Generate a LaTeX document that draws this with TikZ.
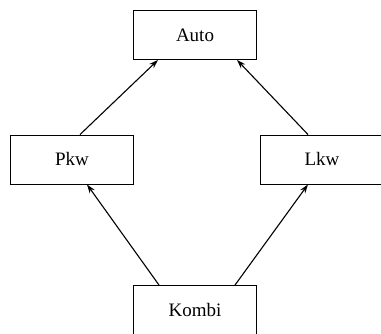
\documentclass[tikz,border=0pt]{standalone}
\usepackage{fontspec}
\setmainfont{Liberation Serif}
\usetikzlibrary{positioning,arrows.meta}

\tikzset{
  klasse/.style={draw, line width=0.9pt, minimum width=123pt, minimum height=49pt,
    inner sep=0pt, font=\fontsize{19}{22}\selectfont},
  erbt/.style={line width=1.1pt, -{Stealth[length=9pt,width=6pt,inset=3pt]}}
}

\begin{document}
\begin{tikzpicture}[x=1pt,y=-1pt]
  \clip (0,0) rectangle (381,334);
  \node[klasse] (auto) at (195,35) {Auto};
  \node[klasse, on grid, below left=124.5pt and 123pt of auto] (pkw) {Pkw};
  \node[klasse, on grid, below right=124.5pt and 127pt of auto] (lkw) {Lkw};
  \node[klasse, on grid, below=275pt of auto] (kombi) {Kombi};

  \draw[erbt] ([xshift=8pt]pkw.north) -- ([xshift=-37pt]auto.south);
  \draw[erbt] ([xshift=-14pt]lkw.north) -- ([xshift=42pt]auto.south);
  \draw[erbt] ([xshift=-36pt]kombi.north) -- ([xshift=15pt]pkw.south);
  \draw[erbt] ([xshift=40pt]kombi.north) -- ([xshift=-14pt]lkw.south);
\end{tikzpicture}
\end{document}
